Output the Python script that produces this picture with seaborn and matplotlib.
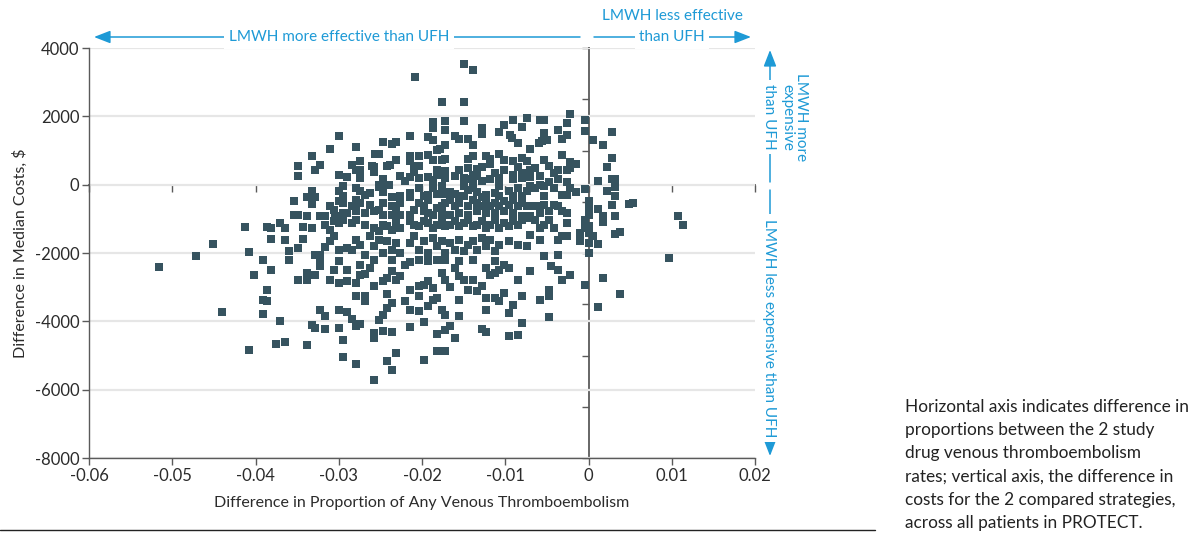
import matplotlib
matplotlib.use("Agg")
import matplotlib.pyplot as plt
import seaborn as sns
import pandas as pd
import numpy as np

# ---------------- data ----------------
upper_points = [
    (-0.0150, 3543), (-0.0139, 3367), (-0.0209, 3143), (-0.0176, 2411), (-0.0150, 2411),
    (-0.0022, 2069), (-0.0187, 1825), (-0.0187, 1659), (-0.0172, 1874), (-0.0172, 1591),
    (-0.0150, 1854), (-0.0091, 1903), (-0.0074, 1942), (-0.0058, 1884), (-0.0053, 1884),
    (-0.0004, 1884), (-0.0026, 1806), (-0.0004, 1562), (-0.0102, 1737), (-0.0080, 1679),
    (-0.0128, 1659), (-0.0128, 1493), (-0.0107, 1532), (-0.0094, 1464), (-0.0092, 1366),
    (-0.0053, 1513), (-0.0037, 1591), (-0.0026, 1464), (-0.0032, 1347), (-0.0050, 1318),
    (-0.0056, 1269), (-0.0060, 1220), (-0.0300, 1435), (-0.0214, 1435), (-0.0193, 1396),
    (-0.0187, 1298), (-0.0160, 1435), (-0.0155, 1347), (-0.0145, 1347), (-0.0139, 1152),
    (-0.0172, 1171), (-0.0182, 1025), (-0.0178, 1044), (-0.0085, 1220), (-0.0070, 1054),
    (-0.0247, 1249), (-0.0236, 1200), (-0.0231, 1249), (-0.0311, 1054), (-0.0279, 1093),
    (-0.0256, 908), (-0.0252, 908), (-0.0332, 830), (-0.0193, 878), (-0.0187, 732),
    (-0.0204, 849), (-0.0214, 830), (-0.0214, 683), (-0.0176, 732), (-0.0172, 752),
    (-0.0139, 849), (-0.0145, 761), (-0.0123, 849), (-0.0118, 761), (-0.0107, 908),
    (-0.0102, 712), (-0.0091, 683), (-0.0080, 781), (-0.0074, 683), (-0.0053, 732),
    (-0.0032, 878), (-0.0022, 654), (-0.0015, 615), (-0.0274, 683), (-0.0231, 732),
    (-0.0238, 586), (-0.0242, 556), (-0.0349, 556), (-0.0322, 586), (-0.0328, 420),
    (-0.0349, 244), (-0.0284, 586), (-0.0274, 439), (-0.0279, 439), (-0.0260, 556),
    (-0.0258, 361), (-0.0258, 517), (-0.0210, 556), (-0.0204, 537), (-0.0210, 361),
    (-0.0182, 439), (-0.0182, 293), (-0.0172, 390), (-0.0155, 439), (-0.0160, 264),
    (-0.0145, 478), (-0.0139, 293), (-0.0134, 468), (-0.0128, 517), (-0.0118, 615),
    (-0.0112, 342), (-0.0102, 420), (-0.0091, 293), (-0.0085, 517), (-0.0080, 342),
    (-0.0070, 439), (-0.0064, 488), (-0.0048, 537), (-0.0042, 342), (-0.0037, 439),
    (-0.0026, 439), (-0.0022, 488), (-0.0300, 293), (-0.0290, 224), (-0.0274, 195),
    (-0.0247, 166), (-0.0226, 264), (-0.0214, 224), (-0.0204, 195), (-0.0193, 215),
    (-0.0187, 146), (-0.0172, 195), (-0.0150, 195), (-0.0134, 244), (-0.0118, 166),
    (-0.0107, 195), (-0.0091, 166), (-0.0080, 185), (-0.0070, 224), (-0.0058, 244),
    (-0.0037, 166), (-0.0026, 68), (-0.0048, 68), (-0.0139, 98), (-0.0145, 166),
    (-0.0128, 117), (-0.0220, 98), (-0.0252, 0), (-0.0240, 0),
]

band_0_to_m1000 = [
    (-0.0295, -49), (-0.0300, -195), (-0.0295, -342), (-0.0332, -195), (-0.0338, -361),
    (-0.0328, -361), (-0.0279, -98), (-0.0274, -195), (-0.0268, -293), (-0.0263, -244),
    (-0.0252, -68), (-0.0247, -224), (-0.0242, -20), (-0.0236, -361), (-0.0226, -322),
    (-0.0214, -244), (-0.0214, -361), (-0.0204, -98), (-0.0198, -342), (-0.0193, -293),
    (-0.0187, -98), (-0.0182, -273), (-0.0176, -49), (-0.0172, -264), (-0.0166, -224),
    (-0.0160, -283), (-0.0155, -322), (-0.0150, -49), (-0.0145, -146), (-0.0139, -98),
    (-0.0134, -224), (-0.0128, -361), (-0.0123, -293), (-0.0112, -244), (-0.0107, -49),
    (-0.0107, -342), (-0.0096, -195), (-0.0091, -342), (-0.0085, -98), (-0.0080, -322),
    (-0.0074, -195), (-0.0070, -49), (-0.0064, -98), (-0.0058, -10), (-0.0053, -49),
    (-0.0053, -342), (-0.0042, -98), (-0.0032, -293), (-0.0026, -312), (-0.0022, -98),
    (-0.0015, -224), (-0.0004, -127), (0.0000, -537), (0.0000, -830),
    (-0.0354, -488), (-0.0332, -566), (-0.0311, -615), (-0.0306, -732), (-0.0300, -488),
    (-0.0295, -537), (-0.0284, -634), (-0.0279, -439), (-0.0274, -537), (-0.0263, -586),
    (-0.0252, -732), (-0.0247, -537), (-0.0236, -634), (-0.0231, -683), (-0.0226, -537),
    (-0.0214, -878), (-0.0204, -537), (-0.0198, -634), (-0.0193, -439), (-0.0193, -830),
    (-0.0182, -683), (-0.0176, -634), (-0.0172, -537), (-0.0166, -439), (-0.0160, -634),
    (-0.0155, -537), (-0.0150, -342), (-0.0145, -634), (-0.0139, -439), (-0.0134, -537),
    (-0.0128, -634), (-0.0123, -537), (-0.0118, -634), (-0.0112, -537), (-0.0107, -634),
    (-0.0102, -488), (-0.0096, -586), (-0.0091, -439), (-0.0085, -634), (-0.0080, -537),
    (-0.0074, -615), (-0.0064, -634), (-0.0058, -634), (-0.0053, -586), (-0.0042, -586),
    (-0.0037, -634), (-0.0032, -781), (-0.0026, -830), (-0.0048, -781), (-0.0058, -830),
    (-0.0070, -927), (-0.0080, -927), (-0.0091, -830), (-0.0102, -781), (-0.0112, -830),
    (-0.0123, -830), (-0.0134, -781), (-0.0145, -878), (-0.0155, -830), (-0.0166, -878),
    (-0.0176, -830), (-0.0187, -878), (-0.0198, -781), (-0.0210, -732), (-0.0226, -878),
    (-0.0236, -878), (-0.0247, -878), (-0.0258, -781), (-0.0268, -830), (-0.0279, -781),
    (-0.0290, -830), (-0.0295, -830), (-0.0305, -927), (-0.0317, -927), (-0.0322, -927),
    (-0.0338, -927), (-0.0354, -878), (-0.0349, -878),
]

band_m1000_to_m2100 = [
    (-0.0413, -1249), (-0.0386, -1249), (-0.0381, -1269), (-0.0370, -1113), (-0.0365, -1269),
    (-0.0343, -1249), (-0.0332, -1269), (-0.0317, -1191), (-0.0311, -1318), (-0.0306, -1074),
    (-0.0300, -1123), (-0.0295, -1025), (-0.0284, -1123), (-0.0279, -1025), (-0.0268, -1171),
    (-0.0258, -1269), (-0.0252, -1366), (-0.0247, -1171), (-0.0242, -1220), (-0.0236, -1318),
    (-0.0231, -1123), (-0.0226, -1269), (-0.0214, -1074), (-0.0210, -1171), (-0.0204, -1220),
    (-0.0198, -1074), (-0.0193, -1123), (-0.0187, -1269), (-0.0182, -1171), (-0.0176, -1025),
    (-0.0172, -1220), (-0.0166, -1171), (-0.0160, -1074), (-0.0155, -1220), (-0.0150, -1123),
    (-0.0145, -1025), (-0.0139, -1220), (-0.0134, -1171), (-0.0128, -1074), (-0.0123, -1269),
    (-0.0118, -1171), (-0.0112, -1025), (-0.0107, -1269), (-0.0102, -1123), (-0.0096, -1220),
    (-0.0091, -1074), (-0.0085, -1171), (-0.0080, -1025), (-0.0070, -976), (-0.0064, -1025),
    (-0.0058, -1269), (-0.0053, -1171), (-0.0048, -1025), (-0.0042, -1269), (-0.0026, -1123),
    (-0.0004, -1025), (-0.0004, -1269), (-0.0010, -1415), (0.0000, -1415),
    (-0.0451, -1728), (-0.0472, -2079), (-0.0408, -1981), (-0.0381, -1591), (-0.0365, -1630),
    (-0.0360, -1952), (-0.0349, -1864), (-0.0343, -1591), (-0.0328, -2050), (-0.0322, -2050),
    (-0.0317, -1835), (-0.0311, -1659), (-0.0306, -1513), (-0.0300, -1903), (-0.0290, -1864),
    (-0.0284, -1903), (-0.0279, -1610), (-0.0274, -1757), (-0.0268, -2050), (-0.0263, -1513),
    (-0.0258, -1806), (-0.0252, -1610), (-0.0247, -2001), (-0.0242, -1659), (-0.0236, -1903),
    (-0.0231, -1708), (-0.0226, -2001), (-0.0214, -1708), (-0.0210, -1513), (-0.0204, -1903),
    (-0.0198, -1659), (-0.0193, -2001), (-0.0187, -1562), (-0.0182, -1806), (-0.0176, -1659),
    (-0.0172, -2001), (-0.0166, -1708), (-0.0160, -1903), (-0.0155, -1610), (-0.0150, -1952),
    (-0.0145, -1757), (-0.0139, -1659), (-0.0134, -1903), (-0.0128, -1562), (-0.0123, -1806),
    (-0.0118, -1610), (-0.0112, -1952), (-0.0107, -1757), (-0.0096, -1659), (-0.0085, -1757),
    (-0.0074, -1806), (-0.0070, -1464), (-0.0058, -1610), (-0.0053, -2098), (-0.0037, -1610),
    (-0.0032, -1513), (-0.0026, -1513), (-0.0037, -2050), (-0.0010, -1659), (0.0000, -1708),
    (0.0000, -2001),
]

lower_points = [
    (-0.0516, -2400),
    (-0.0391, -2216), (-0.0360, -2196), (-0.0322, -2216), (-0.0300, -2245), (-0.0274, -2342),
    (-0.0258, -2196), (-0.0236, -2216), (-0.0214, -2274), (-0.0204, -2196), (-0.0193, -2245),
    (-0.0182, -2196), (-0.0172, -2196), (-0.0155, -2245), (-0.0139, -2196), (-0.0112, -2245),
    (-0.0102, -2342), (-0.0402, -2635), (-0.0381, -2489), (-0.0349, -2801), (-0.0338, -2586),
    (-0.0338, -2782), (-0.0328, -2635), (-0.0322, -2391), (-0.0311, -2801), (-0.0306, -2489),
    (-0.0300, -2879), (-0.0290, -2509), (-0.0290, -2830), (-0.0279, -2879), (-0.0274, -2635),
    (-0.0268, -2606), (-0.0263, -2440), (-0.0258, -2977), (-0.0247, -2830), (-0.0242, -2733),
    (-0.0236, -2538), (-0.0231, -2782), (-0.0226, -2684), (-0.0220, -2342), (-0.0214, -3074),
    (-0.0204, -2977), (-0.0198, -2928), (-0.0193, -2830), (-0.0187, -3026), (-0.0176, -2586),
    (-0.0172, -2782), (-0.0166, -2996), (-0.0160, -2440), (-0.0155, -2684), (-0.0150, -2782),
    (-0.0145, -3074), (-0.0139, -2782), (-0.0134, -3123), (-0.0128, -2977), (-0.0123, -2440),
    (-0.0118, -2635), (-0.0112, -2586), (-0.0107, -2489), (-0.0096, -2440), (-0.0085, -2801),
    (-0.0070, -2538), (-0.0045, -2391), (-0.0037, -2489), (-0.0032, -2801), (-0.0022, -2635),
    (-0.0004, -2928), (-0.0440, -3738), (-0.0391, -3367), (-0.0391, -3777), (-0.0386, -3074),
    (-0.0386, -3416), (-0.0370, -4002), (-0.0332, -4099), (-0.0328, -4197), (-0.0322, -3660),
    (-0.0317, -3836), (-0.0317, -4226), (-0.0300, -3660), (-0.0300, -4197), (-0.0295, -4538),
    (-0.0290, -3738), (-0.0284, -3933), (-0.0279, -4148), (-0.0279, -3250), (-0.0274, -4070),
    (-0.0268, -3270), (-0.0268, -3416), (-0.0258, -4343), (-0.0258, -4490), (-0.0252, -3972),
    (-0.0247, -3806), (-0.0247, -4294), (-0.0242, -3191), (-0.0242, -3611), (-0.0236, -3465),
    (-0.0236, -4324), (-0.0220, -3416), (-0.0214, -3660), (-0.0214, -4177), (-0.0204, -3709),
    (-0.0204, -3250), (-0.0198, -4031), (-0.0193, -3543), (-0.0187, -3387), (-0.0182, -3318),
    (-0.0182, -4363), (-0.0176, -3660), (-0.0172, -3806), (-0.0172, -4245), (-0.0166, -4148),
    (-0.0160, -4490), (-0.0155, -3855), (-0.0155, -3367), (-0.0128, -4226), (-0.0123, -3318),
    (-0.0123, -3660), (-0.0123, -4324), (-0.0112, -3318), (-0.0107, -3416), (-0.0102, -3172),
    (-0.0096, -3758), (-0.0096, -4441), (-0.0091, -3513), (-0.0085, -4392), (-0.0080, -3270),
    (-0.0080, -4050), (-0.0058, -3387), (-0.0048, -3074), (-0.0048, -3270), (-0.0048, -3885),
    (-0.0408, -4851), (-0.0375, -4656), (-0.0365, -4597), (-0.0338, -4704), (-0.0295, -5056),
    (-0.0279, -5261), (-0.0242, -5173), (-0.0236, -5417), (-0.0231, -4939), (-0.0198, -5124),
    (-0.0182, -4880), (-0.0172, -4880), (-0.0258, -5710),
]

right_of_zero_points = [
    (0.0028, 1532), (0.0006, 1318), (0.0017, 1152), (0.0028, 771), (0.0022, 508),
    (0.0011, 117), (0.0028, 176), (0.0032, 176), (0.0032, -59), (0.0022, -195),
    (0.0032, -342), (0.0028, -605), (0.0049, -576), (0.0054, -547), (0.0011, -722),
    (0.0032, -927), (0.0017, -927), (0.0017, -1103), (0.0108, -927), (0.0113, -1191),
    (0.0000, -488), (0.0000, -634), (0.0000, -878), (0.0000, -1220), (0.0006, -1513),
    (0.0011, -1747), (0.0000, -1718), (0.0032, -1454), (0.0038, -1396), (0.0097, -2157),
    (0.0017, -2743), (0.0038, -3211), (0.0011, -3592),
]

x_ticks = [-0.06, -0.05, -0.04, -0.03, -0.02, -0.01, 0.0, 0.01, 0.02]
x_tick_labels = ["-0.06", "-0.05", "-0.04", "-0.03", "-0.02", "-0.01", "0", "0.01", "0.02"]
y_ticks = [-8000, -6000, -4000, -2000, 0, 2000, 4000]
y_tick_labels = ["-8000", "-6000", "-4000", "-2000", "0", "2000", "4000"]
zero_line_y_ticks = [-8000, -6500, -5000, -3500, -2000, -500, 1000, 2500, 4000]

x_label = "Difference in Proportion of Any Venous Thromboembolism"
y_label = "Difference in Median Costs, $"
caption = ("Horizontal axis indicates difference in\n"
           "proportions between the 2 study\n"
           "drug venous thromboembolism\n"
           "rates; vertical axis, the difference in\n"
           "costs for the 2 compared strategies,\n"
           "across all patients in PROTECT.")

all_pts = upper_points + band_0_to_m1000 + band_m1000_to_m2100 + lower_points + right_of_zero_points
df = pd.DataFrame(all_pts, columns=["vte_diff", "cost_diff"])

# ---------------- styling ----------------
sns.set_theme(style="white")
plt.rcParams["font.family"] = ["Lato", "DejaVu Sans"]
plt.rcParams["axes.unicode_minus"] = False

W, H = 1199, 535
fig = plt.figure(figsize=(W / 100, H / 100), dpi=100)
L, R, T, B = 89, 755, 48, 458
ax = fig.add_axes([L / W, 1 - B / H, (R - L) / W, (B - T) / H])

BLUE = "#1e9ad6"
DOT = "#36535f"
AX = "#5a5a5a"
TXT = "#2b2b2b"

sns.scatterplot(data=df, x="vte_diff", y="cost_diff", marker="s", s=29,
                color=DOT, linewidth=0, ax=ax, zorder=3)

ax.set_xlim(-0.06, 0.02)
ax.set_ylim(-8000, 4000)
ax.set_xticks(x_ticks)
ax.set_xticklabels(x_tick_labels)
ax.set_yticks(y_ticks)
ax.set_yticklabels(y_tick_labels)
ax.tick_params(axis="both", labelsize=12, colors=TXT, length=5, width=1, direction="out",
               left=True, bottom=True, pad=2)
ax.tick_params(axis="both", color=AX)
ax.grid(axis="y", color="#e6e6e6", linewidth=1.6, zorder=0)
ax.grid(axis="x", visible=False)
for s in ["top", "right"]:
    ax.spines[s].set_visible(False)
for s in ["left", "bottom"]:
    ax.spines[s].set_color(AX)
    ax.spines[s].set_linewidth(1.0)

ax.set_xlabel(x_label, fontsize=11.5, color=TXT, labelpad=9)
ax.set_ylabel(y_label, fontsize=11.5, color=TXT, labelpad=5)

# zero lines with their own ticks
secx = ax.secondary_xaxis(2 / 3)
secx.set_xticks(x_ticks)
secx.set_xticklabels([])
secx.tick_params(direction="in", length=5, width=1, color=AX)
for sp in secx.spines.values():
    sp.set_color(AX)
    sp.set_linewidth(1.3)
secy = ax.secondary_yaxis(0.75)
secy.set_yticks(zero_line_y_ticks)
secy.set_yticklabels([])
secy.tick_params(direction="in", length=5, width=1, color=AX)
for sp in secy.spines.values():
    sp.set_color(AX)
    sp.set_linewidth(1.3)


def P(x, y):
    return (x / W, 1 - y / H)


def arrow(p0, p1):
    fig.add_artist(matplotlib.patches.FancyArrowPatch(
        P(*p0), P(*p1), transform=fig.transFigure,
        arrowstyle="-|>,head_length=0.9,head_width=0.35", mutation_scale=11,
        color=BLUE, lw=1.1, shrinkA=0, shrinkB=0))


wb = dict(boxstyle="square,pad=0.3", fc="white", ec="none")
FS = 11

# top arrows
arrow((580, 37), (94, 37))
fig.text(*P(339, 37), "LMWH more effective than UFH", color=BLUE, fontsize=FS,
         ha="center", va="center", bbox=wb)
arrow((594, 37), (751, 37))
fig.text(*P(672, 37), "than UFH", color=BLUE, fontsize=FS, ha="center", va="center", bbox=wb)
fig.text(*P(672, 16), "LMWH less effective", color=BLUE, fontsize=FS, ha="center", va="center")

# right arrows
arrow((770, 182), (770, 50))
fig.text(*P(769, 117), "than UFH", color=BLUE, fontsize=FS, rotation=-90,
         ha="center", va="center", bbox=wb)
fig.text(*P(794, 117), "LMWH more\nexpensive", color=BLUE, fontsize=FS, rotation=-90,
         ha="center", va="center", linespacing=0.95)
arrow((770, 190), (770, 456))
fig.text(*P(769, 328), "LMWH less expensive than UFH", color=BLUE, fontsize=FS, rotation=-90,
         ha="center", va="center", bbox=wb)

# caption and bottom rule
fig.text(*P(905, 465), caption, fontsize=12.4, color="#222222", ha="left", va="center",
         linespacing=1.55)
fig.add_artist(matplotlib.lines.Line2D([0, 875 / W], [1 - 530 / H] * 2, color="#222222", lw=1.0,
                                       transform=fig.transFigure))

fig.savefig("out.png", dpi=100)
